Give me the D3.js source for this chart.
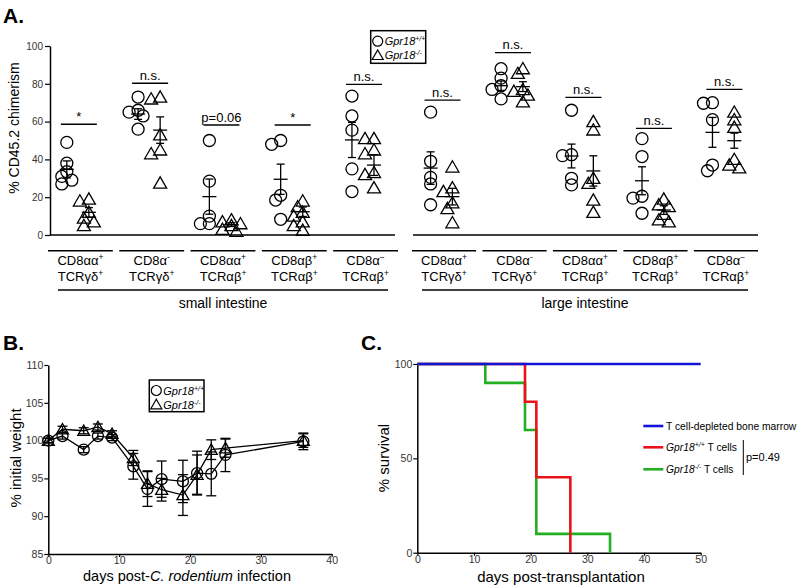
<!DOCTYPE html>
<html><head><meta charset="utf-8">
<script src="https://cdn.jsdelivr.net/npm/d3@7"></script>
<style>body{margin:0;background:#fff} svg{display:block} text{font-family:"Liberation Sans",Arial,sans-serif}</style>
</head><body><svg id="c" width="800" height="586"></svg>
<script>
// ---------------- DATA ----------------
// Panel A: % CD45.2 chimerism, per cell type
const cellLine1 = ["CD8αα", "CD8α", "CD8αα", "CD8αβ", "CD8α"];
const cellSup1 = ["+", "-", "+", "+", "−"];
const cellLine2 = ["TCRγδ", "TCRγδ", "TCRαβ", "TCRαβ", "TCRαβ"];
const cellSup2 = ["+", "+", "+", "+", "+"];
const tissueNames = ["small intestine", "large intestine"];

const siWT = [[49,38,33.5,31,29,27],[73,66,65,63,56],[50,28.5,10,6,6],[50,48,21,18.5,8.3],[73.5,63,55.5,35,23]];
const siKO = [[19,18,12,9,7,5],[73,72,53,45,43,27.5],[8,7,6,5,3,2],[18,15,12,10,7,5,2.5],[51,51,45,43,33,32,25]];
const liWT = [[65,39,30.5,27,16],[88,83,79,77,72],[66,42.5,42,30,26.5],[51,41.5,20.5,19.5,11.5],[70,69.7,61,37,34]];
const liKO = [[36,25,23,17,14,6.5],[88,85.5,77,76,74,70.5],[60,55.6,30,27.3,18.5,12],[19,16,15,11,8,7],[65,61,57,40,37,35.5]];

const siWTmean = [34.7, 64, 20.3, 29.5, 50.3];
const siWTsem  = [4.5, 2.8, 9.3, 8, 9.3];
const siKOmean = [12, 55.5, 5.5, 12.3, 37];
const siKOsem  = [2.5, 7, 1, 2.5, 5.5];
const liWTmean = [35.4, 79, 41.8, 28.7, 54.3];
const liWTsem  = [8.6, 2.5, 6.3, 7.4, 7.9];
const liKOmean = [20.3, 78.5, 33.9, 13.2, 49.9];
const liKOsem  = [4.4, 2.6, 8, 2.3, 4];

const siSigLabel = ["*", "n.s.", "p=0.06", "*", "n.s."];
const siSigLevel = [58.6, 80.3, 58.2, 58.2, 79.7];
const liSigLabel = ["n.s.", "n.s.", "n.s.", "n.s.", "n.s."];
const liSigLevel = [71.4, 96.5, 72.8, 56.4, 77.1];
const yTicksA = [0, 20, 40, 60, 80, 100];

// Panel B: weight after C. rodentium infection
const days = [0,2,5,7,9,12,14,16,19,21,23,25,36];
const wtWeight = [100,100.6,98.8,100.6,100.4,96.6,93.6,94.9,94.6,95.7,95.6,98.1,99.9];
const wtWeightSem = [0.3,0.4,0.4,0.4,0.4,1.7,2.3,2.4,2.8,2.9,2.9,2.2,1.1];
const koWeight = [100,101.5,101.3,101.8,100.9,97.7,94.3,93.5,92.8,95.5,98.8,99.0,100];
const koWeightSem = [0.3,0.4,0.4,0.4,0.4,1.0,1.7,1.5,2.7,2.6,1.3,1.2,0.9];
const yTicksB = [85, 90, 95, 100, 105, 110];
const xTicksB = [0, 10, 20, 30, 40];

// Panel C: survival
const blueDays = [0, 50];           const blueSurv = [100, 100];
const redDays = [0, 19, 21, 27];    const redSurv = [100, 80, 40, 0];
const greenDays = [0, 12, 19, 21, 34]; const greenSurv = [100, 90, 65, 10, 0];
const yTicksC = [0, 50, 100];
const xTicksC = [0, 10, 20, 30, 40, 50];

// ---------------- DRAW ----------------
const svg = d3.select("#c");
const triPath = (s) => { const h = s * 0.866; return `M0,${-h*0.55}L${s/2},${h*0.45}L${-s/2},${h*0.45}Z`; };

function styleAxis(g, fs) {
  g.select(".domain").attr("stroke", "#000").attr("stroke-width", 1.5);
  g.selectAll(".tick line").attr("stroke", "#000").attr("stroke-width", 1.2);
  g.selectAll(".tick text").attr("fill", "#333").attr("font-size", fs)
    .attr("font-family", '"Liberation Sans", Arial, sans-serif');
}

// Panel labels
svg.append("text").attr("x", 3).attr("y", 23).attr("font-size", 21).attr("font-weight", "bold").text("A.");
svg.append("text").attr("x", 3).attr("y", 350).attr("font-size", 21).attr("font-weight", "bold").text("B.");
svg.append("text").attr("x", 361).attr("y", 350).attr("font-size", 21).attr("font-weight", "bold").text("C.");

// ===== Panel A =====
const yA = d3.scaleLinear().domain([0, 100]).range([235, 46]);
const gA = svg.append("g");
const axA = gA.append("g").attr("transform", "translate(50,0)")
  .call(d3.axisLeft(yA).tickValues(yTicksA).tickSize(5).tickSizeOuter(0).tickPadding(2));
styleAxis(axA, 10);
gA.append("text").attr("transform", "translate(19,128) rotate(-90)").attr("text-anchor", "middle")
  .attr("font-size", 14).text("% CD45.2 chimerism");

const tissueRanges = [[48, 398], [412, 758]];
const baseRanges = [[50, 395], [413, 758]];
const tissueWT = [siWT, liWT], tissueKO = [siKO, liKO];
const tissueWTm = [siWTmean, liWTmean], tissueWTs = [siWTsem, liWTsem];
const tissueKOm = [siKOmean, liKOmean], tissueKOs = [siKOsem, liKOsem];
const sigLabels = [siSigLabel, liSigLabel], sigLevels = [siSigLevel, liSigLevel];

function swarm(vals, cx) {
  const placed = [];
  const sorted = vals.map(v => v).sort((a, b) => b - a);
  const offs = [0, -5, 5, -9, 9, -13, 13];
  sorted.forEach(v => {
    const y = yA(v);
    let best = offs[0];
    for (const o of offs) {
      if (placed.every(p => Math.hypot(p.x - (cx + o), p.y - y) >= 6.5)) { best = o; break; }
    }
    placed.push({ x: cx + best, y: y });
  });
  return placed;
}

function meanSem(g, cx, m, s) {
  const add = (x1, y1, x2, y2) => g.append("line").attr("x1", x1).attr("y1", y1).attr("x2", x2).attr("y2", y2)
    .attr("stroke", "#000").attr("stroke-width", 1.3);
  add(cx, yA(m + s), cx, yA(m - s));
  add(cx - 4, yA(m + s), cx + 4, yA(m + s));
  add(cx - 4, yA(m - s), cx + 4, yA(m - s));
  add(cx - 7, yA(m), cx + 7, yA(m));
}

tissueNames.forEach((tn, t) => {
  const band = d3.scaleBand().domain(d3.range(5)).range(tissueRanges[t]).paddingInner(0.09);
  gA.append("line").attr("x1", baseRanges[t][0]).attr("x2", baseRanges[t][1])
    .attr("y1", yA(0)).attr("y2", yA(0)).attr("stroke", "#000").attr("stroke-width", 1.5);
  d3.range(5).forEach(i => {
    const x0 = band(i), bw = band.bandwidth();
    const cxW = x0 + bw * 0.29, cxK = x0 + bw * 0.63;
    swarm(tissueWT[t][i], cxW).forEach(p => gA.append("circle").attr("cx", p.x).attr("cy", p.y).attr("r", 6)
      .attr("fill", "none").attr("stroke", "#000").attr("stroke-width", 1.3));
    swarm(tissueKO[t][i], cxK).forEach(p => gA.append("path").attr("d", triPath(13))
      .attr("transform", `translate(${p.x},${p.y})`)
      .attr("fill", "none").attr("stroke", "#000").attr("stroke-width", 1.3));
    meanSem(gA, cxW, tissueWTm[t][i], tissueWTs[t][i]);
    meanSem(gA, cxK, tissueKOm[t][i], tissueKOs[t][i]);
    const mid = (cxW + cxK) / 2 + 1, ys = yA(sigLevels[t][i]);
    gA.append("line").attr("x1", mid - 18).attr("x2", mid + 18).attr("y1", ys).attr("y2", ys)
      .attr("stroke", "#000").attr("stroke-width", 1.3);
    gA.append("text").attr("x", mid).attr("y", ys - 3.5).attr("text-anchor", "middle")
      .attr("font-size", 13).text(sigLabels[t][i]);
    gA.append("line").attr("x1", x0).attr("x2", x0 + bw).attr("y1", 250.7).attr("y2", 250.7)
      .attr("stroke", "#000").attr("stroke-width", 1.5);
    const l1 = gA.append("text").attr("x", x0 + bw / 2).attr("y", 265).attr("text-anchor", "middle").attr("font-size", 13);
    l1.append("tspan").text(cellLine1[i]);
    l1.append("tspan").attr("dy", -5).attr("font-size", 8.5).text(cellSup1[i]);
    const l2 = gA.append("text").attr("x", x0 + bw / 2).attr("y", 280.5).attr("text-anchor", "middle").attr("font-size", 13);
    l2.append("tspan").text(cellLine2[i]);
    l2.append("tspan").attr("dy", -5).attr("font-size", 8.5).text(cellSup2[i]);
  });
  const r = tissueRanges[t];
  gA.append("line").attr("x1", r[0] + 10).attr("x2", r[1] - 10).attr("y1", 290).attr("y2", 290)
    .attr("stroke", "#000").attr("stroke-width", 1.5);
  gA.append("text").attr("x", (r[0] + r[1]) / 2).attr("y", 308).attr("text-anchor", "middle")
    .attr("font-size", 14).text(tn);
});

function legend(g, x, y, w, h) {
  g.append("rect").attr("x", x).attr("y", y).attr("width", w).attr("height", h)
    .attr("fill", "#fff").attr("stroke", "#000").attr("stroke-width", 1.5);
  g.append("circle").attr("cx", x + 7).attr("cy", y + 10.5).attr("r", 5).attr("fill", "none").attr("stroke", "#000").attr("stroke-width", 1.2);
  g.append("path").attr("d", triPath(11)).attr("transform", `translate(${x + 7},${y + 24.5})`)
    .attr("fill", "none").attr("stroke", "#000").attr("stroke-width", 1.2);
  const t1 = g.append("text").attr("x", x + 14).attr("y", y + 14.5).attr("font-size", 11).attr("font-style", "italic");
  t1.append("tspan").text("Gpr18");
  t1.append("tspan").attr("dy", -4).attr("font-size", 7).text("+/+");
  const t2 = g.append("text").attr("x", x + 14).attr("y", y + 28.5).attr("font-size", 11).attr("font-style", "italic");
  t2.append("tspan").text("Gpr18");
  t2.append("tspan").attr("dy", -4).attr("font-size", 7).text("-/-");
}
legend(gA, 370.7, 30.7, 55, 32.6);

// ===== Panel B =====
const xB = d3.scaleLinear().domain([0, 40]).range([48.3, 331.7]);
const yB = d3.scaleLinear().domain([85, 110]).range([554, 365]);
const gB = svg.append("g");
const axBy = gB.append("g").attr("transform", `translate(${xB(0)},0)`)
  .call(d3.axisLeft(yB).tickValues(yTicksB).tickSize(4).tickSizeOuter(0).tickPadding(1));
styleAxis(axBy, 10.5);
const axBx = gB.append("g").attr("transform", `translate(0,${yB(85)})`)
  .call(d3.axisBottom(xB).tickValues(xTicksB).tickSize(3).tickSizeOuter(0).tickPadding(0));
styleAxis(axBx, 10.5);
gB.append("text").attr("transform", "translate(21,458) rotate(-90)").attr("text-anchor", "middle")
  .attr("font-size", 15).text("% initial weight");
const bt = gB.append("text").attr("x", 187).attr("y", 581).attr("text-anchor", "middle").attr("font-size", 14.5);
bt.append("tspan").text("days post-");
bt.append("tspan").attr("font-style", "italic").text("C. rodentium");
bt.append("tspan").text(" infection");

const lineB = d3.line().x(d => xB(d[0])).y(d => yB(d[1]));
[[wtWeight, wtWeightSem, "c"], [koWeight, koWeightSem, "t"]].forEach(([vals, sems, shape]) => {
  const pts = days.map((d, i) => [d, vals[i]]);
  gB.append("path").attr("d", lineB(pts)).attr("fill", "none").attr("stroke", "#000").attr("stroke-width", 1.3);
  days.forEach((d, i) => {
    const cx = xB(d), top = yB(vals[i] + sems[i]), bot = yB(vals[i] - sems[i]);
    gB.append("line").attr("x1", cx).attr("x2", cx).attr("y1", top).attr("y2", bot).attr("stroke", "#000").attr("stroke-width", 1.3);
    [top, bot].forEach(yy => gB.append("line").attr("x1", cx - 5).attr("x2", cx + 5).attr("y1", yy).attr("y2", yy)
      .attr("stroke", "#000").attr("stroke-width", 1.3));
    if (shape === "c") {
      gB.append("circle").attr("cx", cx).attr("cy", yB(vals[i])).attr("r", 5.5)
        .attr("fill", "none").attr("stroke", "#000").attr("stroke-width", 1.3);
    } else {
      gB.append("path").attr("d", triPath(12)).attr("transform", `translate(${cx},${yB(vals[i])})`)
        .attr("fill", "none").attr("stroke", "#000").attr("stroke-width", 1.3);
    }
  });
});
legend(gB, 149.3, 380, 54.7, 31.7);

// ===== Panel C =====
const xC = d3.scaleLinear().domain([0, 50]).range([417.3, 700.7]);
const yC = d3.scaleLinear().domain([0, 100]).range([552.7, 364]);
const gC = svg.append("g");
const axCy = gC.append("g").attr("transform", `translate(${xC(0)},0)`)
  .call(d3.axisLeft(yC).tickValues(yTicksC).tickSize(4).tickSizeOuter(0).tickPadding(1));
styleAxis(axCy, 10.5);
const axCx = gC.append("g").attr("transform", `translate(0,${yC(0)})`)
  .call(d3.axisBottom(xC).tickValues(xTicksC).tickSize(3).tickSizeOuter(0).tickPadding(0));
styleAxis(axCx, 10.5);
gC.append("text").attr("transform", "translate(389,458) rotate(-90)").attr("text-anchor", "middle")
  .attr("font-size", 15).text("% survival");
gC.append("text").attr("x", 561).attr("y", 582).attr("text-anchor", "middle").attr("font-size", 15)
  .text("days post-transplantation");

const lineC = d3.line().x(d => xC(d[0])).y(d => yC(d[1])).curve(d3.curveStepAfter);
const survSeries = [
  { days: greenDays, surv: greenSurv, color: "#22b022" },
  { days: redDays, surv: redSurv, color: "#e8141a" },
  { days: blueDays, surv: blueSurv, color: "#1414d8" }
];
survSeries.forEach(s => {
  gC.append("path").attr("d", lineC(s.days.map((d, i) => [d, s.surv[i]])))
    .attr("fill", "none").attr("stroke", s.color).attr("stroke-width", 2.6);
});
const legC = [
  { color: "#1414d8", y: 426, parts: [["T cell-depleted bone marrow", null]] },
  { color: "#e8141a", y: 447.3, parts: [["Gpr18", "italic"], ["+/+", "sup"], [" T cells", null]] },
  { color: "#22b022", y: 469.3, parts: [["Gpr18", "italic"], ["-/-", "sup"], [" T cells", null]] }
];
legC.forEach(l => {
  gC.append("line").attr("x1", 643.3).attr("x2", 663.3).attr("y1", l.y).attr("y2", l.y)
    .attr("stroke", l.color).attr("stroke-width", 2.6);
  const t = gC.append("text").attr("x", 666).attr("y", l.y + 4).attr("font-size", 10.3);
  let sup = false;
  l.parts.forEach(([txt, st]) => {
    const ts = t.append("tspan").text(txt);
    if (st === "italic") ts.attr("font-style", "italic");
    if (st === "sup") { ts.attr("dy", -4).attr("font-size", 7).attr("font-style", "italic"); sup = true; }
    else if (sup) { ts.attr("dy", 4); sup = false; }
  });
});
gC.append("line").attr("x1", 743.3).attr("x2", 743.3).attr("y1", 440).attr("y2", 475).attr("stroke", "#000").attr("stroke-width", 1);
gC.append("text").attr("x", 746).attr("y", 461).attr("font-size", 11).text("p=0.49");
</script></body></html>
